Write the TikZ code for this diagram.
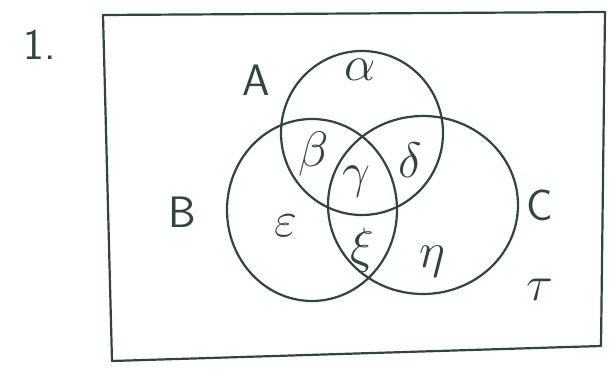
\documentclass[tikz,border=0pt]{standalone}
\usepackage{amsmath}
\usepackage{tikz}
\usepackage{xcolor}
\usetikzlibrary{positioning}
\definecolor{vnink}{HTML}{2E4540}
\tikzset{
  setline/.style  = {draw=vnink, line width=1.1pt},
  framebox/.style = {draw=vnink, line width=1.1pt, line join=round},
  setlbl/.style   = {text=vnink, font=\fontsize{22}{24}\selectfont\sffamily,
                     inner sep=1pt},
  reglbl/.style   = {text=vnink, font=\fontsize{24}{26}\selectfont,
                     inner sep=1pt},
}

\begin{document}
\begin{tikzpicture}[x=0.5pt, y=-0.5pt]

  \useasboundingbox (0,0) rectangle (611,373);

  % ---------- universe -----------------------------------------------------
  \draw[framebox] (103,15) -- (605,12) -- (601,346) -- (112,361) -- cycle;

  % ---------- the three sets -----------------------------------------------
  \draw[setline] (362,133) ellipse [x radius=40.5pt, y radius=41pt];
  \draw[setline] (312,210) ellipse [x radius=42.5pt, y radius=45.5pt];
  \draw[setline] (423,205) ellipse [x radius=47.5pt, y radius=44.5pt];

  % ---------- labels -------------------------------------------------------
  \node[setlbl] (num) at (40,45) {1.};
  \node[setlbl] (la) at (256,80) {A};
  \node[setlbl] (lb) at (182,212) {B};
  \node[setlbl] (lc) at (540,205) {C};

  \node[reglbl] (ra) at (360,70) {$\alpha$};
  \node[reglbl] (rb) at (314,154) {$\beta$};
  \node[reglbl] (rg) at (356,182) {$\gamma$};
  \node[reglbl] (rd) at (410,160) {$\delta$};
  \node[reglbl] (re) at (286,226) {$\varepsilon$};
  \node[reglbl] (rx) at (362,250) {$\xi$};
  \node[reglbl] (rh) at (432,262) {$\eta$};
  \node[reglbl] (rt) at (540,290) {$\tau$};

\end{tikzpicture}
\end{document}
